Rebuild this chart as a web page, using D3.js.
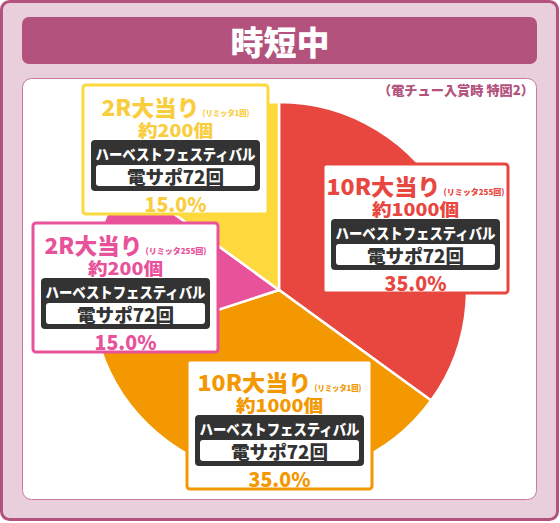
<!DOCTYPE html>
<html><head><meta charset="utf-8">
<script src="https://cdn.jsdelivr.net/npm/d3@7"></script>
<style>html,body{margin:0;padding:0;background:#fff;}svg{display:block;}</style>
</head><body>
<script>
// ---- data ----
const categories = ["10R大当り(リミッタ255回)", "10R大当り(リミッタ1回)", "2R大当り(リミッタ255回)", "2R大当り(リミッタ1回)"];
const rounds = ["10R大当り", "10R大当り", "2R大当り", "2R大当り"];
const limiters = ["(リミッタ255回)", "(リミッタ1回)", "(リミッタ255回)", "(リミッタ1回)"];
const payouts = ["約1000個", "約1000個", "約200個", "約200個"];
const modes = ["ハーベストフェスティバル", "ハーベストフェスティバル", "ハーベストフェスティバル", "ハーベストフェスティバル"];
const support = ["電サポ72回", "電サポ72回", "電サポ72回", "電サポ72回"];
const values = [35.0, 35.0, 15.0, 15.0];
const titleText = "時短中";
const noteText = "（電チュー入賞時 特図2）";

// ---- layout / style ----
const colors = ["#e8473f", "#f39800", "#e8529a", "#fdd93d"];
const textColors = ["#e8473f", "#f39800", "#e8529a", "#f9cd3e"];
const boxPos = [[323,164],[187,360],[33,223],[83,85]];
const W = 560, H = 523;
const font = "'Noto Sans CJK JP','Noto Sans',sans-serif";
const heavy = 900;

const svg = d3.select("body").append("svg").attr("width", W).attr("height", H);

// outer frame
svg.append("rect").attr("x",1.5).attr("y",1.5).attr("width",556).attr("height",518)
  .attr("rx",8).attr("fill","#e9cfdc").attr("stroke","#b3527c").attr("stroke-width",3);
// title bar
svg.append("rect").attr("x",22).attr("y",17).attr("width",515).attr("height",47)
  .attr("rx",7).attr("fill","#b3527c");
svg.append("text").attr("x",280).attr("y",41).attr("text-anchor","middle")
  .attr("dominant-baseline","central").attr("font-family",font).attr("font-weight",heavy)
  .attr("font-size",33).attr("fill","#fff").text(titleText);
// panel
svg.append("rect").attr("x",22.5).attr("y",78.5).attr("width",514).attr("height",421)
  .attr("rx",9).attr("fill","#fff").attr("stroke","#c77c9f").attr("stroke-width",1);
svg.append("text").attr("x",534).attr("y",89).attr("text-anchor","end")
  .attr("dominant-baseline","central").attr("font-family",font).attr("font-weight",heavy)
  .attr("font-size",13).attr("fill","#b3527c")
  .attr("textLength",156).attr("lengthAdjust","spacingAndGlyphs").text(noteText);

// pie
const cx = 279, cy = 290, R = 188;
const pie = d3.pie().sort(null).value(d => d)(values);
const arc = d3.arc().innerRadius(0).outerRadius(R);
svg.append("g").attr("transform", `translate(${cx},${cy})`)
  .selectAll("path").data(pie).join("path")
  .attr("d", arc).attr("fill", (d,i) => colors[i])
  .attr("stroke","#fff").attr("stroke-width",2.5).attr("stroke-linejoin","miter");

// labels
const total = d3.sum(values);
const pct = d3.format(".1f");
const bw = 185, bh = 129;
values.forEach((v, i) => {
  const [bx, by] = boxPos[i];
  const g = svg.append("g").attr("transform", `translate(${bx},${by})`);
  const c = textColors[i];
  g.append("rect").attr("x",0).attr("y",0).attr("width",bw).attr("height",bh).attr("rx",3)
    .attr("fill","#fff").attr("stroke",colors[i]).attr("stroke-width",3);
  const mid = bw/2;
  const w1 = rounds[i].startsWith("10") ? 114 : 98;
  const w2 = limiters[i].includes("255") ? 61 : 47;
  const start = mid - (w1 + 3 + w2)/2;
  g.append("text").attr("x",start).attr("y",20.5).attr("dominant-baseline","central")
    .attr("font-family",font).attr("font-weight",heavy).attr("font-size",22).attr("fill",c)
    .attr("textLength",w1).attr("lengthAdjust","spacingAndGlyphs").text(rounds[i]);
  g.append("text").attr("x",start + w1 + 3).attr("y",27).attr("dominant-baseline","central")
    .attr("font-family",font).attr("font-weight",heavy).attr("font-size",8).attr("fill",c)
    .attr("textLength",w2).attr("lengthAdjust","spacingAndGlyphs").text(limiters[i]);
  const wp = payouts[i].includes("1000") ? 87 : 75;
  g.append("text").attr("x",mid - wp/2).attr("y",44).attr("dominant-baseline","central")
    .attr("font-family",font).attr("font-weight",heavy).attr("font-size",17).attr("fill",c)
    .attr("textLength",wp).attr("lengthAdjust","spacingAndGlyphs").text(payouts[i]);
  g.append("rect").attr("x",8).attr("y",55).attr("width",169).attr("height",51).attr("rx",4)
    .attr("fill","#333333");
  g.append("text").attr("x",mid - 80).attr("y",68).attr("dominant-baseline","central")
    .attr("font-family",font).attr("font-weight",heavy).attr("font-size",15).attr("fill","#fff")
    .attr("textLength",160).attr("lengthAdjust","spacingAndGlyphs").text(modes[i]);
  g.append("rect").attr("x",13).attr("y",80).attr("width",159).attr("height",21).attr("rx",3)
    .attr("fill","#fff");
  g.append("text").attr("x",mid - 48.5).attr("y",90.5).attr("dominant-baseline","central")
    .attr("font-family",font).attr("font-weight",heavy).attr("font-size",18).attr("fill","#333")
    .attr("textLength",97).attr("lengthAdjust","spacingAndGlyphs").text(support[i]);
  g.append("text").attr("x",mid - 31).attr("y",118).attr("dominant-baseline","central")
    .attr("font-family",font).attr("font-weight",heavy).attr("font-size",20).attr("fill",c)
    .attr("textLength",62).attr("lengthAdjust","spacingAndGlyphs")
    .text(pct(v / total * 100) + "%");
});
</script>
</body></html>
